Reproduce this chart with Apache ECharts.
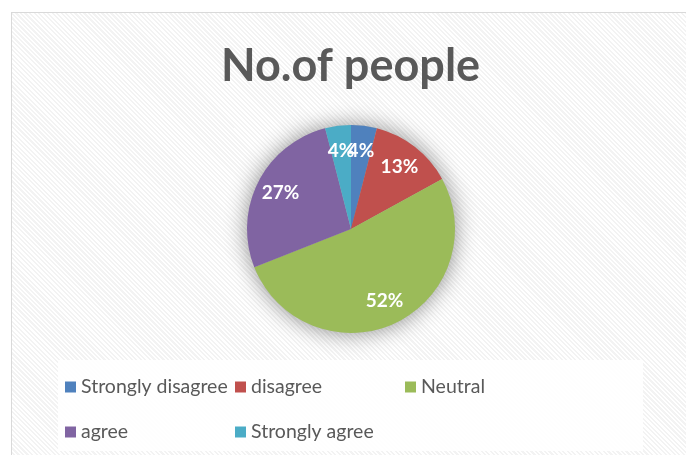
<!DOCTYPE html>
<html>
<head>
<meta charset="utf-8">
<script src="https://cdn.jsdelivr.net/npm/echarts@6/dist/echarts.min.js"></script>
<style>
  html, body { margin: 0; padding: 0; background: #ffffff; width: 686px; height: 455px; overflow: hidden; }
  #frame {
    position: absolute; left: 11px; top: 12px; width: 700px; height: 470px;
    border: 1px solid #d9d9d9;
    background: repeating-linear-gradient(45deg, #ffffff 0px, #ffffff 1.6px, #f3f3f3 1.6px, #f3f3f3 3.2px);
  }
  #chart { position: absolute; left: 0; top: 0; width: 686px; height: 455px; }
</style>
</head>
<body>
<div id="frame"></div>
<div id="chart"></div>
<script>
// Survey responses (percent of people)
const categories = ['Strongly disagree', 'disagree', 'Neutral', 'agree', 'Strongly agree'];
const values = [4, 13, 52, 27, 4];
const colors = ['#4F81BD', '#C0504D', '#9BBB59', '#8064A2', '#4BACC6'];
const chartTitle = 'No.of people';

const FONT = 'Lato, "Open Sans", sans-serif';
const center = [351, 229];
const radius = 104;

const pieData = categories.map((name, i) => ({
  name: name,
  value: values[i],
  itemStyle: { color: colors[i] }
}));

const chart = echarts.init(document.getElementById('chart'), null, { renderer: 'canvas' });
chart.setOption({
  backgroundColor: 'transparent',
  animation: false,
  title: {
    text: chartTitle,
    left: 216,
    top: 39,
    textStyle: { fontFamily: FONT, fontWeight: 'bold', fontSize: 45, color: '#595959' }
  },
  legend: {
    data: categories,
    orient: 'horizontal',
    left: 58,
    top: 360,
    width: 505,
    padding: [8, 75, 0, 7],
    itemGap: 7,
    itemWidth: 11,
    itemHeight: 11,
    icon: 'rect',
    backgroundColor: 'rgba(255,255,255,0.9)',
    selectedMode: false,
    textStyle: { fontFamily: FONT, fontSize: 19.5, color: '#595959', width: 147, lineHeight: 38 }
  },
  series: [
    {
      // soft drop shadow behind the whole pie
      type: 'pie',
      silent: true,
      z: 1,
      center: center,
      radius: radius,
      startAngle: 90,
      clockwise: true,
      label: { show: false },
      labelLine: { show: false },
      itemStyle: { color: '#bfbfbf', shadowBlur: 22, shadowColor: 'rgba(0,0,0,0.45)' },
      data: values.slice()
    },
    {
      type: 'pie',
      z: 2,
      center: center,
      radius: radius,
      startAngle: 90,
      clockwise: true,
      label: { show: false },
      labelLine: { show: false },
      itemStyle: { borderWidth: 0 },
      data: pieData
    },
    {
      // percentage labels, placed on an invisible ring so they sit toward the rim
      type: 'pie',
      silent: true,
      z: 3,
      center: center,
      radius: [48, radius],
      startAngle: 90,
      clockwise: true,
      percentPrecision: 0,
      avoidLabelOverlap: false,
      labelLayout: { hideOverlap: false },
      itemStyle: { color: 'rgba(0,0,0,0)' },
      label: {
        show: true,
        position: 'inside',
        formatter: '{d}%',
        fontFamily: FONT,
        fontWeight: 'bold',
        fontSize: 19,
        color: '#ffffff'
      },
      labelLine: { show: false },
      data: values.slice()
    }
  ]
});
</script>
</body>
</html>
